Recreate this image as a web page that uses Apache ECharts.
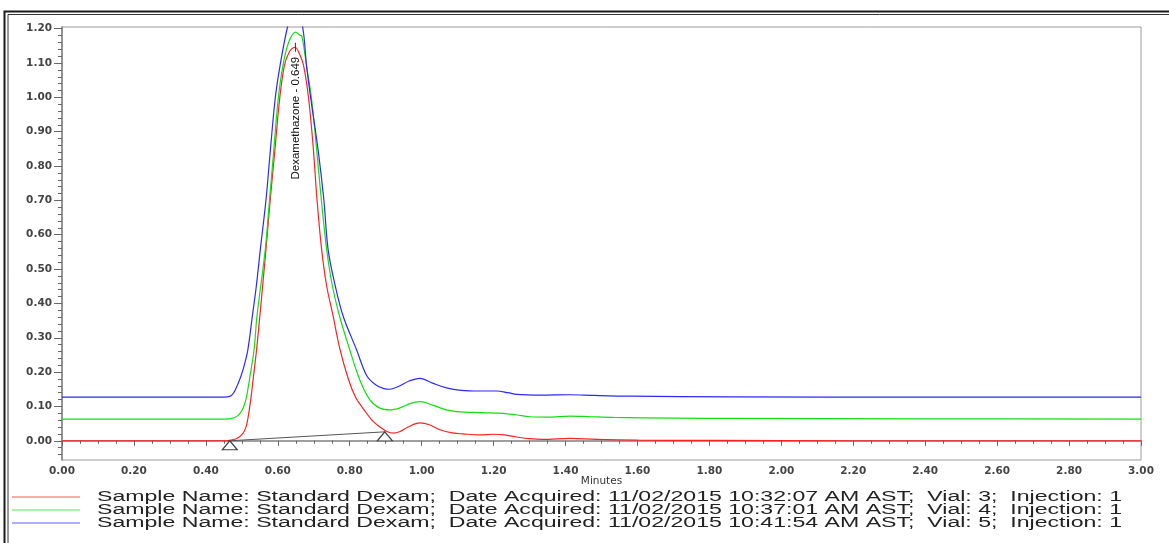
<!DOCTYPE html>
<html>
<head>
<meta charset="utf-8">
<script src="https://cdn.jsdelivr.net/npm/echarts@6/dist/echarts.min.js"></script>
<style>
html,body{margin:0;padding:0;background:#fff;}
#chart{width:1169px;height:543px;}
</style>
</head>
<body>
<div id="chart"></div>
<script>
// ---------- data ----------
const vial3Trace = [[0.00,0.000],[0.40,0.000],[0.455,0.000],[0.47,0.002],[0.484,0.006],[0.494,0.012],[0.505,0.025],[0.513,0.045],[0.520,0.085],[0.526,0.130],[0.531,0.175],[0.541,0.265],[0.550,0.362],[0.567,0.556],[0.579,0.702],[0.592,0.848],[0.605,0.994],[0.618,1.091],[0.632,1.132],[0.648,1.146],[0.661,1.125],[0.672,1.091],[0.686,0.994],[0.699,0.848],[0.709,0.702],[0.722,0.556],[0.736,0.450],[0.754,0.362],[0.772,0.270],[0.797,0.177],[0.817,0.125],[0.840,0.090],[0.861,0.061],[0.884,0.040],[0.903,0.027],[0.921,0.022],[0.940,0.027],[0.962,0.040],[0.995,0.052],[1.023,0.046],[1.051,0.032],[1.085,0.023],[1.115,0.020],[1.162,0.017],[1.199,0.019],[1.230,0.017],[1.264,0.011],[1.300,0.006],[1.338,0.004],[1.412,0.007],[1.486,0.004],[1.60,0.002],[1.80,0.001],[2.20,0.000],[3.00,0.000]];

const vial4Trace = [[0.00,0.063],[0.44,0.063],[0.465,0.064],[0.478,0.067],[0.490,0.074],[0.500,0.088],[0.507,0.105],[0.513,0.128],[0.521,0.177],[0.534,0.265],[0.542,0.362],[0.565,0.556],[0.577,0.702],[0.589,0.848],[0.601,0.994],[0.614,1.091],[0.630,1.160],[0.650,1.190],[0.660,1.182],[0.667,1.178],[0.680,1.091],[0.694,0.994],[0.708,0.848],[0.721,0.702],[0.736,0.556],[0.752,0.450],[0.772,0.362],[0.800,0.265],[0.828,0.177],[0.856,0.119],[0.884,0.095],[0.911,0.090],[0.940,0.096],[0.970,0.109],[0.995,0.114],[1.030,0.104],[1.069,0.090],[1.110,0.084],[1.162,0.082],[1.227,0.080],[1.265,0.075],[1.301,0.070],[1.350,0.069],[1.412,0.072],[1.470,0.070],[1.533,0.068],[1.70,0.066],[1.86,0.065],[2.40,0.064],[3.00,0.063]];

const vial5Trace = [[0.00,0.127],[0.44,0.127],[0.460,0.128],[0.470,0.131],[0.478,0.141],[0.484,0.153],[0.4896,0.167],[0.4975,0.188],[0.5055,0.215],[0.5167,0.265],[0.5291,0.362],[0.5402,0.450],[0.5513,0.556],[0.5672,0.702],[0.5795,0.848],[0.5925,0.994],[0.6060,1.091],[0.6270,1.205],[0.648,1.275],[0.6690,1.205],[0.6800,1.091],[0.6920,0.994],[0.712,0.848],[0.728,0.702],[0.740,0.556],[0.760,0.450],[0.782,0.362],[0.819,0.265],[0.847,0.190],[0.872,0.163],[0.895,0.152],[0.911,0.150],[0.935,0.158],[0.965,0.174],[0.995,0.182],[1.030,0.168],[1.069,0.154],[1.110,0.147],[1.160,0.145],[1.208,0.145],[1.240,0.140],[1.264,0.135],[1.330,0.133],[1.412,0.134],[1.480,0.132],[1.58,0.130],[1.86,0.128],[2.40,0.127],[3.00,0.127]];

const integrationBaseline = [[0.4665,0.000],[0.8976,0.026]];

const peakName = 'Dexamethazone';
const peakTime = 0.649;
const peakHeight = 1.146;

const yTickValues = [0.00,0.10,0.20,0.30,0.40,0.50,0.60,0.70,0.80,0.90,1.00,1.10,1.20];
const xTickStep = 0.20;

const sampleNames = ['Standard Dexam','Standard Dexam','Standard Dexam'];
const acquiredDates = ['11/02/2015 10:32:07 AM AST','11/02/2015 10:37:01 AM AST','11/02/2015 10:41:54 AM AST'];
const vials = [3,4,5];
const injections = [1,1,1];

// ---------- styling / layout ----------
const colors = ['#ff2020','#10e010','#2a2aff'];
const traces = [vial3Trace, vial4Trace, vial5Trace];
const legendTexts = sampleNames.map((n,i)=>'Sample Name: '+n+';  Date Acquired: '+acquiredDates[i]+';  Vial: '+vials[i]+';  Injection: '+injections[i]);

const yMin = -0.056, yMax = 1.205;
const yMinor = [];
for (let k = -2; k <= 60; k++) { if (k % 5 !== 0) yMinor.push(+(k*0.02).toFixed(2)); }

const tickFont = {fontFamily:'DejaVu Sans', fontSize:10.5, fontWeight:'bold', color:'#444'};

// legend text stretch to match the reference width
const mctx = document.createElement('canvas').getContext('2d');
mctx.font = '14px "Liberation Sans"';
const legendWidth = mctx.measureText(legendTexts[0]).width;
const legendScale = 1025 / legendWidth;

const legendRowsY = [497, 510, 523];
const graphics = [
  {type:'rect', silent:true, shape:{x:4.5,y:11.5,width:1400,height:800}, style:{fill:'none',stroke:'#1a1a1a',lineWidth:2}},
  {type:'rect', silent:true, shape:{x:8,y:14.5,width:1400,height:800}, style:{fill:'none',stroke:'#333',lineWidth:1}}
];
legendTexts.forEach((t,i)=>{
  graphics.push({type:'line', silent:true, shape:{x1:12,y1:legendRowsY[i],x2:80,y2:legendRowsY[i]}, style:{stroke:colors[i],lineWidth:1,opacity:0.75}});
  graphics.push({type:'text', silent:true, x:97, y:legendRowsY[i], scaleX:legendScale,
    style:{text:t, fontSize:14, fontFamily:'Liberation Sans', fill:'#222', verticalAlign:'middle', align:'left'}});
});

const series = traces.map((d,i)=>({
  name: legendTexts[i],
  type:'line',
  data:d,
  showSymbol:false,
  symbol:'none',
  smooth:0.35,
  clip:true,
  lineStyle:{color:colors[i], width:1.2},
  itemStyle:{color:colors[i]},
  z: 3,
  markPoint: i===0 ? {
    symbol:'rect',
    symbolSize:[1,9],
    itemStyle:{color:'#333'},
    data:[{coord:[peakTime, peakHeight]}],
    label:{show:true, formatter: peakName+' - '+peakTime.toFixed(3), position:'bottom', distance:5,
      rotate:90, align:'right', verticalAlign:'middle', fontSize:11.5, fontFamily:'Liberation Sans', color:'#111'}
  } : undefined
}));

series.push({
  name:'Integration baseline',
  type:'line',
  data:integrationBaseline,
  symbol:'triangle',
  symbolSize:[15,9],
  symbolOffset:[0,'50%'],
  showSymbol:true,
  lineStyle:{color:'#555', width:1},
  itemStyle:{color:'#fff', borderColor:'#444', borderWidth:1.2},
  z:4
});

const chart = echarts.init(document.getElementById('chart'));
chart.setOption({
  animation:false,
  backgroundColor:'#fff',
  grid:{left:62, right:28, top:27, bottom:83, show:true, borderColor:'#9a9a9a', borderWidth:1},
  xAxis:{
    type:'value', min:0, max:3, interval:xTickStep,
    name:'Minutes', nameLocation:'middle', nameGap:21, nameMoveOverlap:false,
    nameTextStyle:{fontFamily:'DejaVu Sans', fontSize:10.5, color:'#333', verticalAlign:'middle'},
    axisLine:{show:true, lineStyle:{color:'#808080', width:1.5}},
    axisTick:{show:true, length:5, lineStyle:{color:'#666'}},
    minorTick:{show:true, splitNumber:4, length:3, lineStyle:{color:'#666'}},
    axisLabel:Object.assign({margin:6, formatter:v=>v.toFixed(2)}, tickFont),
    splitLine:{show:false}
  },
  yAxis:[{
    type:'value', min:yMin, max:yMax,
    axisLine:{show:true, lineStyle:{color:'#808080', width:1.5}},
    axisTick:{show:true, length:8, customValues:yTickValues, lineStyle:{color:'#666'}},
    axisLabel:Object.assign({margin:10, customValues:yTickValues, formatter:v=>v.toFixed(2)}, tickFont),
    splitLine:{show:false}
  },{
    type:'value', min:yMin, max:yMax, position:'left',
    axisLine:{show:false},
    axisTick:{show:true, length:4, customValues:yMinor, lineStyle:{color:'#666'}},
    axisLabel:{show:false},
    splitLine:{show:false}
  }],
  series:series,
  graphic:graphics
});
</script>
</body>
</html>
